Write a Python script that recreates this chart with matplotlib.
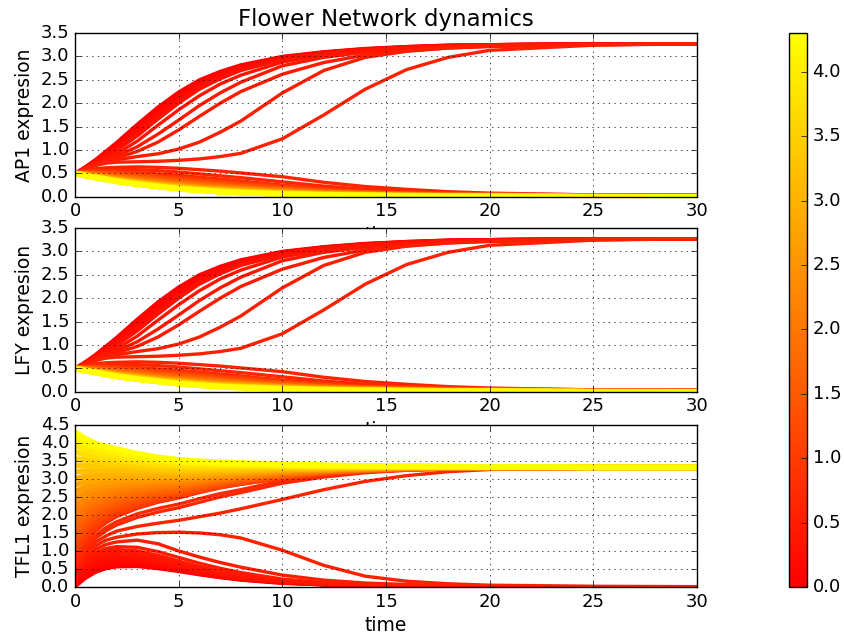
import matplotlib

matplotlib.use("Agg")
import matplotlib.pyplot as plt
from matplotlib.axes import Axes
from matplotlib.cm import ScalarMappable
from matplotlib.colors import Normalize
from matplotlib.figure import Figure

TIME = [0, 0.5, 1, 1.5, 2, 3, 4, 5, 6, 7, 8, 10, 12, 14, 16, 18, 20, 25, 30]

# Initial TFL1 level of every trajectory, also used for the line colour.
TFL1_START = [
    0.0, 0.05, 0.1, 0.15, 0.2, 0.25, 0.3,
    0.35, 0.4, 0.45, 0.5, 0.55,
    0.6, 0.65, 0.7,
    0.8, 0.98, 1.17, 1.35, 1.54, 1.72, 1.91, 2.09, 2.27, 2.46,
    2.64, 2.83, 3.01, 3.2, 3.38, 3.56, 3.75, 3.93, 4.12, 4.3,
]

AP1 = [
    [0.5, 0.64, 0.8, 0.98, 1.16, 1.55, 1.92, 2.24, 2.5, 2.68, 2.82, 3.0, 3.1, 3.17, 3.21, 3.24, 3.25, 3.27, 3.27],
    [0.5, 0.64, 0.79, 0.96, 1.13, 1.5, 1.87, 2.2, 2.46, 2.65, 2.8, 2.99, 3.09, 3.16, 3.21, 3.24, 3.25, 3.27, 3.27],
    [0.5, 0.63, 0.78, 0.94, 1.1, 1.46, 1.82, 2.15, 2.42, 2.62, 2.78, 2.98, 3.09, 3.16, 3.2, 3.23, 3.25, 3.27, 3.27],
    [0.5, 0.63, 0.77, 0.92, 1.07, 1.42, 1.78, 2.11, 2.39, 2.6, 2.76, 2.97, 3.08, 3.15, 3.2, 3.23, 3.25, 3.27, 3.27],
    [0.5, 0.63, 0.76, 0.9, 1.05, 1.38, 1.74, 2.07, 2.36, 2.57, 2.74, 2.96, 3.07, 3.15, 3.2, 3.23, 3.25, 3.26, 3.27],
    [0.5, 0.62, 0.75, 0.88, 1.02, 1.34, 1.7, 2.04, 2.33, 2.55, 2.72, 2.94, 3.07, 3.14, 3.19, 3.22, 3.24, 3.26, 3.27],
    [0.5, 0.62, 0.74, 0.86, 0.99, 1.3, 1.66, 2.0, 2.3, 2.52, 2.7, 2.93, 3.06, 3.14, 3.19, 3.22, 3.24, 3.26, 3.27],
    [0.5, 0.61, 0.72, 0.82, 0.92, 1.19, 1.53, 1.86, 2.16, 2.41, 2.6, 2.88, 3.03, 3.12, 3.18, 3.21, 3.23, 3.26, 3.27],
    [0.5, 0.61, 0.71, 0.79, 0.87, 1.07, 1.34, 1.64, 1.95, 2.22, 2.45, 2.8, 2.98, 3.09, 3.16, 3.2, 3.23, 3.26, 3.27],
    [0.5, 0.6, 0.7, 0.77, 0.83, 0.97, 1.17, 1.43, 1.72, 2.0, 2.25, 2.62, 2.87, 3.03, 3.12, 3.18, 3.21, 3.25, 3.27],
    [0.5, 0.6, 0.69, 0.75, 0.79, 0.86, 0.92, 1.02, 1.17, 1.38, 1.62, 2.22, 2.7, 2.98, 3.11, 3.18, 3.22, 3.25, 3.27],
    [0.5, 0.59, 0.67, 0.72, 0.74, 0.75, 0.76, 0.78, 0.81, 0.86, 0.93, 1.24, 1.75, 2.3, 2.72, 2.98, 3.13, 3.24, 3.27],
    [0.5, 0.56, 0.6, 0.62, 0.63, 0.64, 0.63, 0.61, 0.58, 0.55, 0.51, 0.43, 0.31, 0.22, 0.16, 0.11, 0.08, 0.04, 0.03],
    [0.5, 0.55, 0.58, 0.59, 0.59, 0.58, 0.56, 0.53, 0.49, 0.45, 0.41, 0.32, 0.23, 0.16, 0.12, 0.08, 0.06, 0.03, 0.02],
    [0.5, 0.54, 0.56, 0.56, 0.55, 0.52, 0.49, 0.46, 0.42, 0.38, 0.34, 0.25, 0.18, 0.12, 0.09, 0.06, 0.05, 0.02, 0.01],
    [0.5, 0.53, 0.54, 0.54, 0.53, 0.5, 0.46, 0.42, 0.38, 0.34, 0.3, 0.22, 0.15, 0.1, 0.07, 0.05, 0.04, 0.02, 0.01],
    [0.5, 0.52, 0.52, 0.52, 0.51, 0.47, 0.43, 0.39, 0.35, 0.31, 0.28, 0.2, 0.14, 0.09, 0.06, 0.05, 0.04, 0.02, 0.01],
    [0.5, 0.51, 0.51, 0.5, 0.48, 0.45, 0.4, 0.36, 0.32, 0.29, 0.25, 0.18, 0.13, 0.08, 0.06, 0.04, 0.03, 0.02, 0.01],
    [0.5, 0.5, 0.5, 0.48, 0.46, 0.42, 0.38, 0.34, 0.3, 0.26, 0.23, 0.17, 0.11, 0.08, 0.05, 0.04, 0.03, 0.01, 0.01],
    [0.5, 0.5, 0.49, 0.47, 0.45, 0.4, 0.36, 0.32, 0.28, 0.24, 0.21, 0.15, 0.1, 0.07, 0.05, 0.03, 0.03, 0.01, 0.01],
    [0.5, 0.49, 0.48, 0.46, 0.43, 0.39, 0.34, 0.3, 0.26, 0.23, 0.2, 0.14, 0.1, 0.07, 0.05, 0.03, 0.03, 0.01, 0.01],
    [0.5, 0.48, 0.47, 0.44, 0.42, 0.37, 0.32, 0.28, 0.24, 0.21, 0.18, 0.13, 0.09, 0.06, 0.04, 0.03, 0.02, 0.01, 0.0],
    [0.5, 0.48, 0.46, 0.43, 0.4, 0.36, 0.31, 0.26, 0.23, 0.2, 0.17, 0.12, 0.08, 0.06, 0.04, 0.03, 0.02, 0.01, 0.0],
    [0.5, 0.47, 0.45, 0.42, 0.39, 0.34, 0.29, 0.25, 0.21, 0.18, 0.16, 0.11, 0.07, 0.05, 0.04, 0.02, 0.02, 0.01, 0.0],
    [0.5, 0.47, 0.44, 0.41, 0.38, 0.33, 0.28, 0.24, 0.2, 0.17, 0.15, 0.1, 0.07, 0.05, 0.03, 0.02, 0.02, 0.0, 0.0],
    [0.5, 0.47, 0.44, 0.41, 0.37, 0.32, 0.27, 0.23, 0.19, 0.16, 0.14, 0.1, 0.06, 0.05, 0.03, 0.02, 0.02, 0.0, 0.0],
    [0.5, 0.46, 0.43, 0.4, 0.37, 0.31, 0.26, 0.22, 0.18, 0.15, 0.13, 0.09, 0.06, 0.04, 0.03, 0.02, 0.02, 0.0, 0.0],
    [0.5, 0.46, 0.43, 0.39, 0.36, 0.3, 0.25, 0.21, 0.17, 0.14, 0.12, 0.08, 0.06, 0.04, 0.03, 0.02, 0.01, 0.0, 0.0],
    [0.5, 0.46, 0.42, 0.39, 0.35, 0.3, 0.25, 0.2, 0.17, 0.14, 0.11, 0.08, 0.05, 0.04, 0.03, 0.01, 0.01, 0.0, 0.0],
    [0.5, 0.46, 0.42, 0.38, 0.35, 0.29, 0.24, 0.19, 0.16, 0.13, 0.11, 0.07, 0.05, 0.04, 0.02, 0.01, 0.01, 0.0, 0.0],
    [0.5, 0.46, 0.42, 0.38, 0.34, 0.28, 0.23, 0.19, 0.15, 0.12, 0.1, 0.07, 0.05, 0.03, 0.02, 0.01, 0.01, 0.0, 0.0],
    [0.5, 0.45, 0.42, 0.38, 0.34, 0.28, 0.23, 0.18, 0.15, 0.12, 0.1, 0.07, 0.04, 0.03, 0.02, 0.01, 0.01, 0.0, 0.0],
    [0.5, 0.45, 0.41, 0.37, 0.33, 0.27, 0.22, 0.18, 0.14, 0.11, 0.09, 0.06, 0.04, 0.03, 0.02, 0.01, 0.01, 0.0, 0.0],
    [0.5, 0.45, 0.41, 0.37, 0.33, 0.27, 0.22, 0.17, 0.14, 0.11, 0.09, 0.06, 0.04, 0.03, 0.02, 0.01, 0.01, 0.0, 0.0],
    [0.5, 0.45, 0.41, 0.37, 0.33, 0.27, 0.22, 0.17, 0.14, 0.11, 0.09, 0.06, 0.04, 0.03, 0.02, 0.01, 0.01, 0.0, 0.0],
]

# LFY panel reads the same as AP1 at this resolution.
LFY = [list(row) for row in AP1]

TFL1 = [
    [0.0, 0.24, 0.41, 0.51, 0.56, 0.57, 0.51, 0.43, 0.34, 0.26, 0.19, 0.1, 0.06, 0.03, 0.02, 0.01, 0.0, 0.0, 0.0],
    [0.05, 0.3, 0.47, 0.57, 0.61, 0.61, 0.54, 0.45, 0.35, 0.27, 0.2, 0.11, 0.06, 0.03, 0.02, 0.01, 0.0, 0.0, 0.0],
    [0.1, 0.36, 0.52, 0.62, 0.66, 0.65, 0.57, 0.47, 0.37, 0.28, 0.21, 0.12, 0.06, 0.04, 0.02, 0.01, 0.01, 0.0, 0.0],
    [0.15, 0.42, 0.59, 0.68, 0.71, 0.69, 0.61, 0.5, 0.39, 0.3, 0.22, 0.12, 0.07, 0.04, 0.02, 0.01, 0.01, 0.0, 0.0],
    [0.2, 0.48, 0.65, 0.74, 0.77, 0.74, 0.65, 0.53, 0.42, 0.32, 0.24, 0.13, 0.07, 0.04, 0.02, 0.01, 0.01, 0.0, 0.0],
    [0.25, 0.54, 0.72, 0.8, 0.83, 0.79, 0.69, 0.56, 0.44, 0.34, 0.25, 0.14, 0.08, 0.04, 0.02, 0.01, 0.01, 0.0, 0.0],
    [0.3, 0.6, 0.78, 0.86, 0.88, 0.84, 0.73, 0.6, 0.47, 0.36, 0.27, 0.15, 0.08, 0.05, 0.03, 0.02, 0.01, 0.0, 0.0],
    [0.35, 0.66, 0.84, 0.93, 0.96, 0.92, 0.8, 0.65, 0.51, 0.39, 0.29, 0.16, 0.09, 0.05, 0.03, 0.02, 0.01, 0.0, 0.0],
    [0.4, 0.72, 0.9, 1.0, 1.04, 1.0, 0.88, 0.72, 0.57, 0.44, 0.33, 0.18, 0.1, 0.05, 0.03, 0.02, 0.01, 0.0, 0.0],
    [0.45, 0.78, 0.96, 1.07, 1.12, 1.1, 0.98, 0.82, 0.66, 0.52, 0.4, 0.22, 0.12, 0.07, 0.04, 0.02, 0.01, 0.0, 0.0],
    [0.5, 0.85, 1.05, 1.18, 1.25, 1.3, 1.2, 1.0, 0.83, 0.68, 0.55, 0.33, 0.19, 0.11, 0.07, 0.04, 0.02, 0.01, 0.0],
    [0.55, 0.92, 1.15, 1.3, 1.38, 1.47, 1.51, 1.52, 1.5, 1.45, 1.36, 1.02, 0.6, 0.3, 0.16, 0.09, 0.05, 0.02, 0.01],
    [0.6, 1.0, 1.25, 1.42, 1.55, 1.68, 1.77, 1.85, 1.95, 2.05, 2.17, 2.43, 2.7, 2.93, 3.09, 3.2, 3.26, 3.31, 3.32],
    [0.65, 1.08, 1.36, 1.56, 1.72, 1.93, 2.08, 2.2, 2.35, 2.5, 2.62, 2.88, 3.05, 3.17, 3.24, 3.28, 3.3, 3.32, 3.32],
    [0.7, 1.15, 1.44, 1.65, 1.81, 2.03, 2.18, 2.3, 2.45, 2.59, 2.7, 2.95, 3.1, 3.2, 3.26, 3.29, 3.31, 3.32, 3.32],
    [0.8, 1.26, 1.56, 1.78, 1.95, 2.18, 2.35, 2.47, 2.62, 2.75, 2.85, 3.02, 3.14, 3.22, 3.27, 3.3, 3.31, 3.32, 3.32],
    [0.98, 1.41, 1.69, 1.89, 2.05, 2.26, 2.42, 2.53, 2.67, 2.79, 2.88, 3.04, 3.15, 3.23, 3.27, 3.3, 3.31, 3.32, 3.32],
    [1.17, 1.56, 1.82, 2.0, 2.15, 2.34, 2.48, 2.58, 2.71, 2.82, 2.91, 3.06, 3.17, 3.24, 3.28, 3.3, 3.31, 3.32, 3.32],
    [1.35, 1.71, 1.94, 2.12, 2.25, 2.42, 2.55, 2.64, 2.76, 2.86, 2.94, 3.08, 3.18, 3.24, 3.28, 3.31, 3.31, 3.32, 3.32],
    [1.54, 1.86, 2.07, 2.23, 2.35, 2.5, 2.61, 2.69, 2.8, 2.9, 2.97, 3.1, 3.19, 3.25, 3.29, 3.31, 3.31, 3.32, 3.32],
    [1.72, 2.01, 2.2, 2.34, 2.45, 2.58, 2.68, 2.75, 2.85, 2.94, 3.01, 3.12, 3.2, 3.26, 3.29, 3.31, 3.32, 3.32, 3.32],
    [1.91, 2.16, 2.32, 2.45, 2.54, 2.66, 2.75, 2.81, 2.9, 2.97, 3.04, 3.14, 3.22, 3.26, 3.3, 3.31, 3.32, 3.32, 3.32],
    [2.09, 2.31, 2.45, 2.56, 2.64, 2.74, 2.81, 2.86, 2.94, 3.01, 3.07, 3.16, 3.23, 3.27, 3.3, 3.31, 3.32, 3.32, 3.32],
    [2.27, 2.46, 2.58, 2.67, 2.74, 2.82, 2.88, 2.92, 2.99, 3.05, 3.1, 3.18, 3.24, 3.28, 3.3, 3.32, 3.32, 3.32, 3.32],
    [2.46, 2.62, 2.71, 2.78, 2.84, 2.9, 2.94, 2.97, 3.03, 3.09, 3.13, 3.21, 3.25, 3.29, 3.31, 3.32, 3.32, 3.32, 3.32],
    [2.64, 2.77, 2.83, 2.9, 2.94, 2.98, 3.01, 3.03, 3.08, 3.12, 3.16, 3.23, 3.27, 3.29, 3.31, 3.32, 3.32, 3.32, 3.32],
    [2.83, 2.92, 2.96, 3.01, 3.04, 3.06, 3.07, 3.08, 3.12, 3.16, 3.19, 3.25, 3.28, 3.3, 3.32, 3.32, 3.32, 3.32, 3.32],
    [3.01, 3.07, 3.09, 3.12, 3.14, 3.14, 3.14, 3.14, 3.17, 3.2, 3.22, 3.27, 3.29, 3.31, 3.32, 3.32, 3.32, 3.32, 3.32],
    [3.2, 3.22, 3.22, 3.23, 3.24, 3.22, 3.21, 3.2, 3.22, 3.24, 3.25, 3.29, 3.3, 3.32, 3.33, 3.33, 3.32, 3.32, 3.32],
    [3.38, 3.37, 3.34, 3.34, 3.34, 3.3, 3.27, 3.25, 3.26, 3.27, 3.29, 3.31, 3.32, 3.32, 3.33, 3.33, 3.33, 3.32, 3.32],
    [3.56, 3.52, 3.47, 3.45, 3.43, 3.38, 3.34, 3.31, 3.31, 3.31, 3.32, 3.33, 3.33, 3.33, 3.33, 3.33, 3.33, 3.32, 3.32],
    [3.75, 3.67, 3.6, 3.57, 3.53, 3.46, 3.4, 3.36, 3.35, 3.35, 3.35, 3.35, 3.34, 3.34, 3.34, 3.33, 3.33, 3.32, 3.32],
    [3.93, 3.82, 3.73, 3.68, 3.63, 3.54, 3.47, 3.42, 3.4, 3.39, 3.38, 3.37, 3.35, 3.35, 3.34, 3.34, 3.33, 3.32, 3.32],
    [4.12, 3.97, 3.85, 3.79, 3.73, 3.62, 3.53, 3.47, 3.44, 3.42, 3.41, 3.39, 3.37, 3.35, 3.35, 3.34, 3.33, 3.32, 3.32],
    [4.3, 4.12, 3.98, 3.9, 3.83, 3.7, 3.6, 3.53, 3.49, 3.46, 3.44, 3.41, 3.38, 3.36, 3.35, 3.34, 3.33, 3.32, 3.32],
]

PANELS = [
    ("AP1 expresion", AP1, [0.0, 0.5, 1.0, 1.5, 2.0, 2.5, 3.0, 3.5]),
    ("LFY expresion", LFY, [0.0, 0.5, 1.0, 1.5, 2.0, 2.5, 3.0, 3.5]),
    ("TFL1 expresion", TFL1, [0.0, 0.5, 1.0, 1.5, 2.0, 2.5, 3.0, 3.5, 4.0, 4.5]),
]
X_TICKS = [0, 5, 10, 15, 20, 25, 30]
CBAR_TICKS = [0.0, 0.5, 1.0, 1.5, 2.0, 2.5, 3.0, 3.5, 4.0]


def plot():
    plt.style.use("classic")
    plt.rcParams["xtick.labelsize"] = 13
    plt.rcParams["ytick.labelsize"] = 13
    fig: Figure = plt.figure(figsize=(8.45, 6.35), dpi=100, facecolor="white")
    cmap = plt.get_cmap("autumn")
    norm = Normalize(vmin=0.0, vmax=max(TFL1_START))

    boxes = [
        [0.0888, 0.690, 0.736, 0.258],
        [0.0888, 0.383, 0.736, 0.258],
        [0.0888, 0.0756, 0.736, 0.2554],
    ]
    for box, (ylabel, curves, yticks) in zip(boxes, PANELS):
        ax: Axes = fig.add_axes(box)
        for start, values in zip(TFL1_START, curves):
            # the dense upper fan is drawn a bit wider so it reads as one band
            lw = 4.0 if start > 0.8 else 2.4
            ax.plot(TIME, values, color=cmap(norm(start)), lw=lw)
        ax.set_xlim(0, 30)
        ax.set_ylim(yticks[0], yticks[-1])
        ax.set_xticks(X_TICKS)
        ax.set_yticks(yticks)
        ax.set_ylabel(ylabel, fontsize=13.5)
        ax.set_xlabel("time", fontsize=13.5, labelpad=4)
        ax.grid(True)
        if ylabel.startswith("AP1"):
            ax.set_title("Flower Network dynamics", fontsize=16.5)

    cax: Axes = fig.add_axes([0.9337, 0.0756, 0.0213, 0.8724])
    sm = ScalarMappable(norm=norm, cmap=cmap)
    sm.set_array([])
    fig.colorbar(sm, cax=cax, ticks=CBAR_TICKS)
    return fig


def main():
    fig = plot()
    fig.savefig("out.png", dpi=100, facecolor="white")


if __name__ == "__main__":
    main()
